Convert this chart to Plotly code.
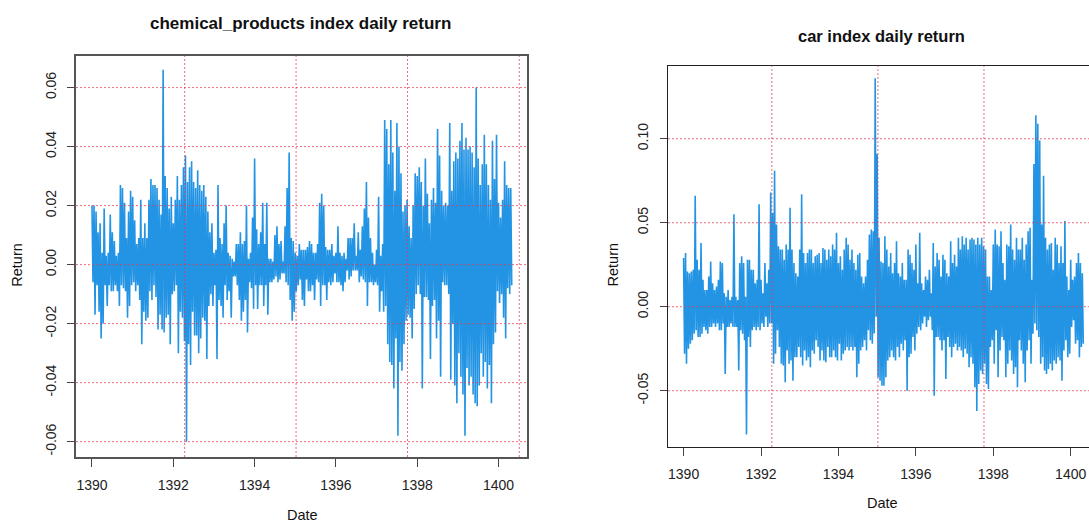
import plotly.graph_objects as go

# ---- data (returns in thousandths, one high/low pair per 0.05-year window) ----
start_year = 1390.0
step = 0.05

chem_hi = [20,20,18,11,14,4,19,3,4,17,
           11,8,3,4,27,26,21,9,18,25,
           23,15,7,9,22,9,14,9,22,29,
           27,27,26,22,17,66,30,26,19,23,
           14,22,30,22,27,33,37,28,33,35,
           28,26,32,27,25,27,23,18,11,14,
           4,5,27,9,7,14,20,4,3,2,
           1,7,7,11,7,8,20,2,4,16,
           36,12,7,11,21,7,21,2,2,1,
           10,13,7,8,1,13,26,38,9,8,
           4,3,7,5,5,5,6,8,7,4,
           4,7,21,24,20,6,5,5,7,3,
           4,13,4,3,4,2,9,9,9,14,
           3,11,5,13,19,28,16,9,4,0,
           5,23,3,7,49,46,34,49,38,25,
           48,40,31,18,20,22,13,9,20,31,
           30,33,28,20,36,24,14,22,26,21,
           46,37,25,20,21,20,48,25,35,38,
           36,42,48,39,43,39,40,38,33,60,
           36,27,34,44,34,27,22,42,29,44,
           21,16,22,35,27,26,26]
chem_lo = [-6,-17,-7,-16,-25,-20,-7,-14,-7,-9,
           -9,-7,-9,-14,-7,-8,-9,-18,-14,-7,
           -6,-9,-7,-12,-27,-16,-19,-18,-9,-12,
           -7,-11,-22,-17,-22,-23,-18,-17,-27,-10,
           -9,-7,-30,-16,-18,-26,-60,-27,-34,-16,
           -24,-24,-30,-25,-18,-19,-32,-14,-10,-14,
           -7,-32,-12,-14,-18,-7,-12,-9,-18,-4,
           -4,-7,-12,-19,-16,-12,-23,-6,-8,-15,
           -7,-15,-7,-7,-14,-7,-17,-6,-6,-5,
           -4,-6,-5,-3,-3,-6,-7,-12,-19,-16,
           -9,-7,-5,-12,-14,-5,-9,-9,-7,-12,
           -5,-6,-14,-7,-7,-12,-6,-7,-6,-3,
           -6,-6,-7,-9,-6,-2,-5,-4,-2,-2,
           -2,-6,-4,-5,-6,-14,-6,-6,-7,-6,
           -7,-16,-9,-16,-14,-27,-33,-34,-42,-25,
           -58,-33,-36,-27,-19,-17,-18,-25,-15,-10,
           -7,-10,-42,-11,-11,-12,-32,-14,-12,-25,
           -19,-38,-6,-7,-7,-10,-39,-20,-41,-47,
           -30,-38,-44,-58,-35,-41,-38,-44,-47,-48,
           -41,-30,-38,-33,-42,-34,-47,-27,-23,-9,
           -13,-10,-18,-25,-8,-10,-7]

car_hi = [29,32,21,20,21,22,66,28,22,38,
          16,10,10,18,27,14,10,12,16,27,
          26,8,6,10,4,6,55,6,4,26,
          30,26,6,28,28,22,22,14,16,61,
          16,8,26,14,22,68,56,81,49,36,
          34,34,28,37,34,59,34,26,20,18,
          34,67,32,26,32,34,34,26,30,31,
          32,26,35,34,28,34,30,37,34,44,
          26,30,22,34,41,37,28,34,26,22,
          31,32,18,14,18,28,43,46,45,136,
          91,41,27,26,42,34,24,32,20,26,
          39,20,18,26,16,16,34,31,26,22,
          37,14,44,14,10,18,16,22,8,38,
          24,32,28,18,31,28,20,18,39,26,
          31,24,41,34,42,37,41,34,40,41,
          40,37,41,37,41,36,34,18,18,10,
          37,46,37,36,45,26,16,37,36,49,
          34,28,41,34,34,41,28,37,45,47,
          16,85,114,109,99,49,78,41,34,37,
          38,22,41,37,26,36,26,51,18,10,
          28,16,18,26,32,26,20]
car_lo = [-28,-34,-25,-22,-20,-16,-14,-18,-18,-16,
          -12,-14,-16,-12,-12,-10,-12,-10,-14,-14,
          -10,-40,-12,-12,-10,-12,-12,-12,-38,-14,
          -16,-20,-76,-18,-24,-14,-12,-14,-12,-14,
          -10,-12,-6,-12,-10,-10,-34,-28,-14,-24,
          -34,-35,-45,-26,-34,-32,-44,-30,-30,-24,
          -30,-35,-26,-32,-30,-36,-26,-28,-20,-24,
          -32,-26,-32,-33,-24,-30,-30,-26,-30,-32,
          -22,-32,-28,-26,-24,-26,-24,-26,-24,-42,
          -34,-26,-24,-20,-26,-14,-20,-22,-16,-6,
          -42,-44,-47,-47,-42,-32,-30,-26,-30,-32,
          -24,-30,-22,-26,-20,-50,-30,-28,-18,-26,
          -16,-12,-14,-10,-6,-12,-8,-6,-14,-53,
          -18,-18,-20,-26,-20,-43,-18,-24,-30,-24,
          -22,-26,-24,-26,-30,-25,-28,-36,-30,-34,
          -48,-62,-46,-38,-40,-34,-46,-49,-24,-20,
          -34,-14,-42,-26,-18,-20,-42,-34,-26,-32,
          -40,-36,-48,-20,-26,-34,-45,-26,-20,-34,
          -16,-10,-14,-18,-34,-30,-38,-40,-37,-34,
          -38,-32,-34,-30,-32,-44,-26,-20,-30,-28,
          -12,-8,-22,-20,-30,-24,-22]

x_ticks = [1390, 1392, 1394, 1396, 1398, 1400]
chem_y_ticks = [-0.06, -0.04, -0.02, 0.00, 0.02, 0.04, 0.06]
chem_y_text = ["-0.06", "-0.04", "-0.02", "0.00", "0.02", "0.04", "0.06"]
car_y_ticks = [-0.05, 0.00, 0.05, 0.10]
car_y_text = ["-0.05", "0.00", "0.05", "0.10"]
date_grid = [1392.28, 1395.02, 1397.76, 1400.51]

titles = ["chemical_products index daily return", "car index daily return"]


def zigzag(hi, lo):
    xs, ys = [], []
    for i, (h, l) in enumerate(zip(hi, lo)):
        t = start_year + step * i
        xs += [t, t + step / 2]
        ys += [h / 1000.0, l / 1000.0]
    return xs, ys


blue = "#2394E4"
grid_col = "rgba(222,60,85,0.75)"
font_fam = "Liberation Sans, Arial, sans-serif"

fig = go.Figure()
cx, cy = zigzag(chem_hi, chem_lo)
fig.add_trace(go.Scatter(x=cx, y=cy, mode="lines", line=dict(color=blue, width=1.6),
                         xaxis="x", yaxis="y", showlegend=False, hoverinfo="skip"))
kx, ky = zigzag(car_hi, car_lo)
fig.add_trace(go.Scatter(x=kx, y=ky, mode="lines", line=dict(color=blue, width=1.6),
                         xaxis="x2", yaxis="y2", showlegend=False, hoverinfo="skip"))

common_axis = dict(showgrid=False, zeroline=False, ticks="outside", showline=True,
                   tickfont=dict(family=font_fam, size=14, color="#222"))

fig.update_layout(
    width=1089, height=522, margin=dict(l=0, r=0, t=0, b=0),
    paper_bgcolor="white", plot_bgcolor="white",
    xaxis=dict(domain=[76/1089, 527/1089], range=[1389.607, 1400.70], tickvals=x_ticks,
               ticklen=8, tickcolor="#444", linecolor="#555", linewidth=1.6, mirror=True,
               ticklabelstandoff=6, anchor="y", **common_axis),
    yaxis=dict(domain=[65/522, 466/522], range=[-0.0652, 0.0707], tickvals=chem_y_ticks,
               ticktext=chem_y_text, tickangle=-90, ticklen=7, tickcolor="#444",
               linecolor="#555", linewidth=1.6, mirror=True, ticklabelstandoff=6,
               anchor="x", **common_axis),
    xaxis2=dict(domain=[668/1089, 1.0], range=[1389.597, 1400.473], tickvals=x_ticks,
                ticklen=8, tickcolor="#444", linecolor="#222", linewidth=1.3, mirror=True,
                ticklabelstandoff=6, anchor="y2", **common_axis),
    yaxis2=dict(domain=[75/522, 456.3/522], range=[-0.0835, 0.1435], tickvals=car_y_ticks,
                ticktext=car_y_text, tickangle=-90, ticklen=7, tickcolor="#444",
                linecolor="#222", linewidth=1.3, mirror=False, ticklabelstandoff=6,
                anchor="x2", **common_axis),
)

shapes = []
for xr, yr, yt in (("x", "y", chem_y_ticks), ("x2", "y2", car_y_ticks)):
    for v in yt:
        shapes.append(dict(type="line", xref=xr + " domain", yref=yr, x0=0, x1=1, y0=v, y1=v,
                           line=dict(color=grid_col, width=1, dash="2px,2px"), layer="above"))
    for v in date_grid:
        shapes.append(dict(type="line", xref=xr, yref=yr + " domain", x0=v, x1=v, y0=0, y1=1,
                           line=dict(color=grid_col, width=1, dash="2px,2px"), layer="above"))
fig.update_layout(shapes=shapes)

ann = [
    dict(text="<b>" + titles[0] + "</b>", x=300.7/1089, y=1-23/522, font=dict(size=17)),
    dict(text="<b>" + titles[1] + "</b>", x=881.5/1089, y=1-35.6/522, font=dict(size=16.5)),
    dict(text="Return", x=16.7/1089, y=1-265/522, textangle=-90, font=dict(size=14.5)),
    dict(text="Date", x=302/1089, y=1-515/522, font=dict(size=14.5)),
    dict(text="Return", x=612.5/1089, y=1-265/522, textangle=-90, font=dict(size=14.5)),
    dict(text="Date", x=882/1089, y=1-503/522, font=dict(size=14.5)),
]
for a in ann:
    a.update(xref="paper", yref="paper", showarrow=False, xanchor="center", yanchor="middle")
    a["font"].update(family=font_fam, color="#111")
fig.update_layout(annotations=ann)

fig.write_html("out.html", config={"displayModeBar": False},
               post_script="document.body.style.margin='0';document.body.style.overflow='hidden';")
